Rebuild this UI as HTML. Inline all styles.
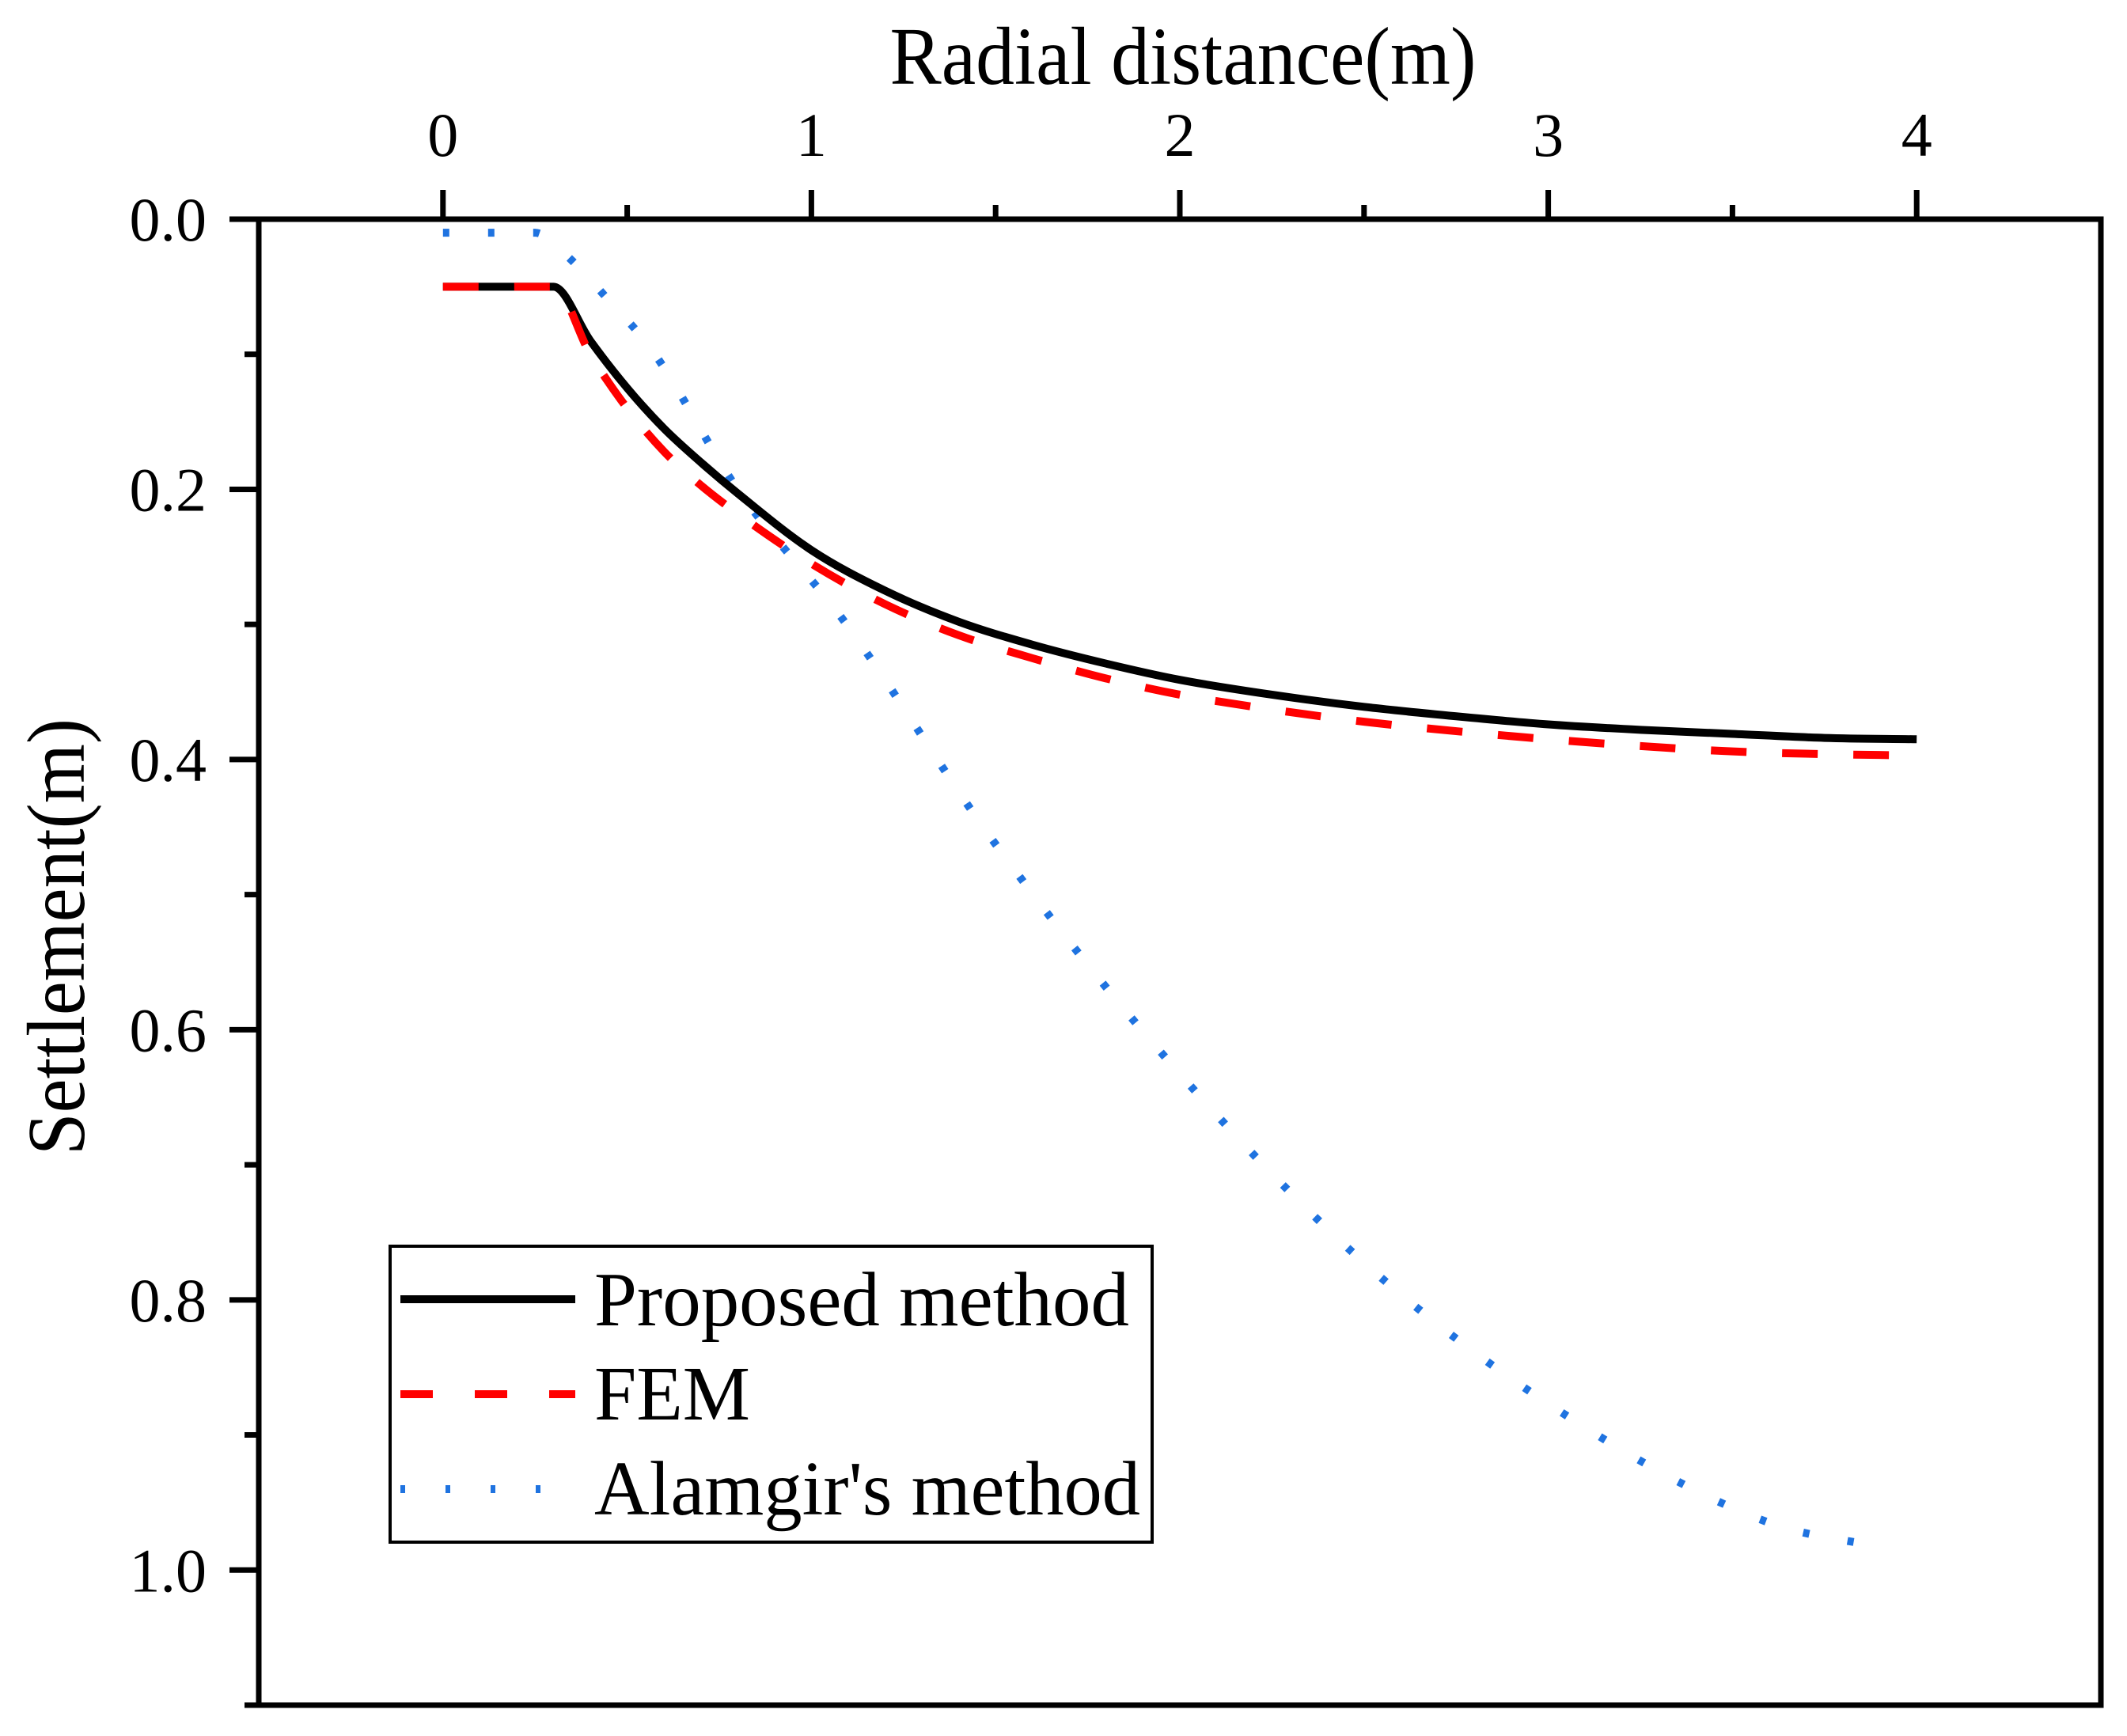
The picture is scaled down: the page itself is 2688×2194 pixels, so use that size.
<!DOCTYPE html>
<html><head><meta charset="utf-8"><style>
html,body{margin:0;padding:0;background:#fff;}
svg{display:block;font-family:"Liberation Serif",serif;}
</style></head><body>
<svg id="chart" width="2688" height="2194" viewBox="0 0 2688 2194" xmlns="http://www.w3.org/2000/svg">
<g id="plot"></g>
</svg>
<script>
const proposedX=[0,0.1,0.2,0.3,0.4,0.5,0.6,0.7,0.8,1.0,1.2,1.4,1.6,1.8,2.0,2.25,2.5,2.75,3.0,3.25,3.5,3.75,4.0];
const proposedY=[0.05,0.05,0.05,0.05,0.09,0.125,0.155,0.18,0.203,0.245,0.275,0.298,0.315,0.329,0.341,0.352,0.361,0.368,0.374,0.378,0.381,0.384,0.385];
const femX=[0,0.1,0.2,0.3,0.4,0.5,0.6,0.7,0.8,1.0,1.2,1.4,1.6,1.8,2.0,2.25,2.5,2.75,3.0,3.25,3.5,3.75,4.0];
const femY=[0.05,0.05,0.05,0.05,0.1,0.14,0.172,0.197,0.218,0.255,0.285,0.308,0.325,0.34,0.352,0.363,0.372,0.379,0.385,0.39,0.394,0.396,0.397];
const alamX=[0,0.25,0.32,0.45,0.57,0.8,1.09,1.49,1.94,2.49,3.04,3.59,3.92];
const alamY=[0.01,0.01,0.023,0.06,0.098,0.2,0.298,0.459,0.614,0.77,0.884,0.964,0.984];
const xTicks=[0,1,2,3,4];
const xTickLabels=["0","1","2","3","4"];
const yTicks=[0,0.2,0.4,0.6,0.8,1.0];
const yTickLabels=["0.0","0.2","0.4","0.6","0.8","1.0"];

const NS="http://www.w3.org/2000/svg";
const L=327,R=2655,T=277,B=2155;
const xMin=-0.5,xMax=4.5,yMin=0,yMax=1.1;
const sx=v=>L+(v-xMin)/(xMax-xMin)*(R-L);
const sy=v=>T+(v-yMin)/(yMax-yMin)*(B-T);
const g=document.getElementById('plot');
function mk(tag,attrs,parent){const e=document.createElementNS(NS,tag);for(const k in attrs)e.setAttribute(k,attrs[k]);(parent||g).appendChild(e);return e;}

// monotone cubic (Fritsch-Carlson) in pixel space
function smooth(xs,ys){
  const X=xs.map(sx),Y=ys.map(sy),n=X.length;
  const d=[],m=[];
  for(let i=0;i<n-1;i++)d.push((Y[i+1]-Y[i])/(X[i+1]-X[i]));
  m[0]=d[0];m[n-1]=d[n-2];
  for(let i=1;i<n-1;i++){m[i]=(d[i-1]*d[i]<=0)?0:(d[i-1]+d[i])/2;}
  for(let i=0;i<n-1;i++){
    if(d[i]===0){m[i]=0;m[i+1]=0;continue;}
    const a=m[i]/d[i],b=m[i+1]/d[i],s=a*a+b*b;
    if(s>9){const t=3/Math.sqrt(s);m[i]=t*a*d[i];m[i+1]=t*b*d[i];}
  }
  let p='M'+X[0]+','+Y[0];
  for(let i=0;i<n-1;i++){const h=(X[i+1]-X[i])/3;
    p+=' C'+(X[i]+h)+','+(Y[i]+m[i]*h)+' '+(X[i+1]-h)+','+(Y[i+1]-m[i+1]*h)+' '+X[i+1]+','+Y[i+1];}
  return p;}
let e;
e=mk('path',{d:smooth(alamX,alamY),fill:'none',stroke:'#1f73e0','stroke-width':10,'stroke-dasharray':'8 49'});


e=mk('path',{d:smooth(proposedX,proposedY),fill:'none',stroke:'#000','stroke-width':10,'stroke-linejoin':'round'});


e=mk('path',{d:smooth(femX,femY),fill:'none',stroke:'#ff0000','stroke-width':10,'stroke-dasharray':'45 45'});



// axes frame
e=mk('rect',{x:L,y:T,width:R-L,height:B-T,fill:'none',stroke:'#000','stroke-width':7});



// x ticks (top)
for(let v=0;v<=4.01;v+=0.5){const major=Math.abs(v-Math.round(v))<1e-6;
  e=mk('line',{x1:sx(v),x2:sx(v),y1:T,y2:T-(major?37:18),stroke:'#000','stroke-width':7});
  
  }
xTicks.forEach((v,i)=>{e=mk('text',{x:sx(v),y:197,'font-size':78,'text-anchor':'middle'});e.textContent=xTickLabels[i];
  
  });
// y ticks (left)
for(let v=0;v<=1.101;v+=0.1){const major=Math.round(v*10)%2===0;
  e=mk('line',{x1:L,x2:L-(major?37:18),y1:sy(v),y2:sy(v),stroke:'#000','stroke-width':7});
  
  }
yTicks.forEach((v,i)=>{e=mk('text',{x:261,y:sy(v)+27,'font-size':78,'text-anchor':'end'});e.textContent=yTickLabels[i];
  
  });

// titles
e=mk('text',{x:1495,y:106,'font-size':104,'text-anchor':'middle',textLength:741,lengthAdjust:'spacingAndGlyphs'});e.textContent='Radial distance(m)';


e=mk('text',{x:0,y:0,'font-size':104,'text-anchor':'middle',textLength:552,lengthAdjust:'spacingAndGlyphs',transform:'translate(106,1184) rotate(-90)'});e.textContent='Settlement(m)';



// legend
const lg=mk('g',{});


e=mk('rect',{x:493,y:1575,width:963,height:374,fill:'#fff',stroke:'#000','stroke-width':4},lg);


const legItems=[['Proposed method','#000','none',1642,1675,676],['FEM','#ff0000','41 53',1762,1794,197],["Alamgir's method",'#1f73e0','6 51',1882,1914,690]];
legItems.forEach(it=>{
  e=mk('line',{x1:506,x2:727,y1:it[3],y2:it[3],stroke:it[1],'stroke-width':10,'stroke-dasharray':it[2]},lg);
  
  
  e=mk('text',{x:751,y:it[4],'font-size':98,textLength:it[5],lengthAdjust:'spacingAndGlyphs'},lg);e.textContent=it[0];
  
  
});
</script>
</body></html>
